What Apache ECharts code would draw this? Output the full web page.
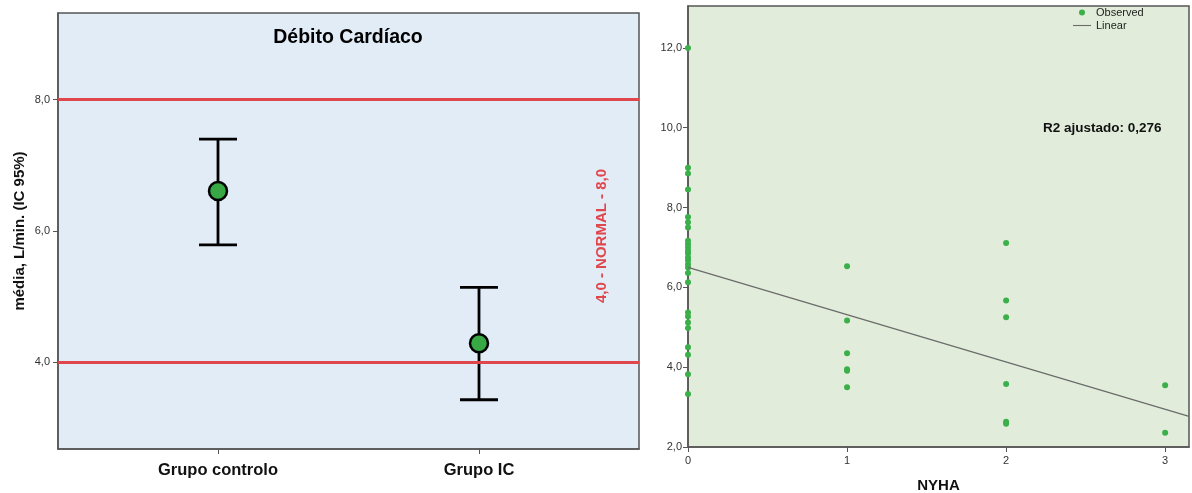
<!DOCTYPE html>
<html>
<head>
<meta charset="utf-8">
<script src="https://cdn.jsdelivr.net/npm/echarts@6/dist/echarts.min.js"></script>
<style>
html,body{margin:0;padding:0;background:#fff;}
#c{width:1192px;height:493px;}
</style>
</head>
<body>
<div id="c"></div>
<script>
// ---- Left chart data (Débito Cardíaco, mean with 95% CI) ----
const groups = ['Grupo controlo', 'Grupo IC'];
const groupMeans = [6.61, 4.29];
const groupLow = [5.79, 3.43];
const groupHigh = [7.40, 5.14];
const normalRange = [4.0, 8.0];
const leftTicks = [4, 6, 8];

// ---- Right chart data (NYHA vs Débito Cardíaco) ----
const nyha0 = [12.0, 9.0, 8.85, 8.45, 7.76, 7.63, 7.5, 7.17, 7.08, 7.0, 6.92, 6.85, 6.75, 6.68, 6.58, 6.5, 6.36, 6.13, 5.37, 5.27, 5.12, 4.98, 4.5, 4.31, 3.82, 3.33];
const nyha1 = [6.53, 5.17, 4.35, 3.95, 3.91, 3.50];
const nyha2 = [7.11, 5.67, 5.25, 3.58, 2.63, 2.58];
const nyha3 = [3.55, 2.36];
const nyhaTicks = [0, 1, 2, 3];
const rightTicks = [2, 4, 6, 8, 10, 12];
const fitIntercept = 6.50;
const fitSlope = -1.184;
const r2Label = 'R2 ajustado: 0,276';

const FONT = '"Liberation Sans", Arial, sans-serif';
const fmt = v => Number(v).toFixed(1).replace('.', ',');

const scatterData = [];
[nyha0, nyha1, nyha2, nyha3].forEach((arr, i) => arr.forEach(v => scatterData.push([nyhaTicks[i], v])));

const rightXMax = 3.15;
const fitData = [[0, fitIntercept], [rightXMax, fitIntercept + fitSlope * rightXMax]];

const errData = groups.map((g, i) => [i + 1, groupLow[i], groupHigh[i]]);
const meanData = groups.map((g, i) => [i + 1, groupMeans[i]]);

const chart = echarts.init(document.getElementById('c'), null, {renderer: 'canvas'});

const option = {
  animation: false,
  backgroundColor: '#ffffff',
  legend: {
    left: 1073, top: 7, padding: 0, orient: 'vertical', itemGap: 2,
    itemWidth: 18, itemHeight: 6,
    textStyle: {fontFamily: FONT, fontSize: 11, color: '#222'},
    data: [
      {name: 'Observed', icon: 'circle'},
      {name: 'Linear', icon: 'path://M0,0L18,0L18,1.1L0,1.1Z', itemStyle: {color: '#6b6b6b'}}
    ]
  },
  grid: [
    {left: 58, top: 13, width: 581, height: 436, outerBoundsMode: 'none', containLabel: false, show: true, backgroundColor: '#e1ecf7', borderColor: '#555', borderWidth: 1.5},
    {left: 688, top: 6, width: 501, height: 441, outerBoundsMode: 'none', containLabel: false, show: true, backgroundColor: '#e1edda', borderColor: '#555', borderWidth: 1.5}
  ],
  xAxis: [
    {
      gridIndex: 0, type: 'value', min: 0.387, max: 2.613,
      axisLine: {show: true, lineStyle: {color: '#555', width: 1.5}},
      axisTick: {show: true, length: 5, customValues: [1, 2], lineStyle: {color: '#555'}},
      axisLabel: {customValues: [1, 2], margin: 13, formatter: v => groups[Math.round(v) - 1] || '',
        fontFamily: FONT, fontSize: 16.5, fontWeight: 'bold', color: '#111'},
      splitLine: {show: false}
    },
    {
      gridIndex: 1, type: 'value', min: 0, max: rightXMax,
      name: 'NYHA', nameLocation: 'middle', nameGap: 31,
      nameTextStyle: {fontFamily: FONT, fontSize: 15, fontWeight: 'bold', color: '#111'},
      axisLine: {show: true, lineStyle: {color: '#555', width: 1.5}},
      axisTick: {show: true, length: 5, customValues: nyhaTicks, lineStyle: {color: '#555'}},
      axisLabel: {customValues: nyhaTicks, margin: 8, fontFamily: FONT, fontSize: 11, color: '#333'},
      splitLine: {show: false}
    }
  ],
  yAxis: [
    {
      gridIndex: 0, type: 'value', min: 2.68, max: 9.32,
      name: 'média, L/min. (IC 95%)', nameLocation: 'middle', nameGap: 31,
      nameTextStyle: {fontFamily: FONT, fontSize: 15, fontWeight: 'bold', color: '#111'},
      axisLine: {show: true, lineStyle: {color: '#555', width: 1.5}},
      axisTick: {show: true, length: 5, customValues: leftTicks, lineStyle: {color: '#555'}},
      axisLabel: {customValues: leftTicks, margin: 8, formatter: fmt, fontFamily: FONT, fontSize: 11, color: '#333'},
      splitLine: {show: false}
    },
    {
      gridIndex: 1, type: 'value', min: 2, max: 13.05,
      axisLine: {show: true, lineStyle: {color: '#555', width: 1.5}},
      axisTick: {show: true, length: 5, customValues: rightTicks, lineStyle: {color: '#555'}},
      axisLabel: {customValues: rightTicks, margin: 6, formatter: fmt, fontFamily: FONT, fontSize: 11, color: '#333'},
      splitLine: {show: false}
    }
  ],
  graphic: [
    {
      type: 'text', x: 348, y: 38,
      style: {text: 'Débito Cardíaco', fill: '#000', font: 'bold 19.5px ' + FONT, align: 'center', verticalAlign: 'middle'}
    },
    {
      type: 'text', x: 602, y: 236, rotation: Math.PI / 2,
      style: {text: '4,0 - NORMAL - 8,0', fill: '#e0474c', font: 'bold 15px ' + FONT, align: 'center', verticalAlign: 'middle'}
    },
    {
      type: 'text', x: 1043, y: 128,
      style: {text: r2Label, fill: '#111', font: 'bold 13.5px ' + FONT, align: 'left', verticalAlign: 'middle'}
    }
  ],
  series: [
    {
      type: 'line', xAxisIndex: 0, yAxisIndex: 0, data: [], silent: true,
      markLine: {
        symbol: 'none', silent: true, label: {show: false},
        lineStyle: {color: '#e0474c', width: 3, type: 'solid'},
        data: normalRange.map(v => ({yAxis: v}))
      }
    },
    {
      type: 'custom', xAxisIndex: 0, yAxisIndex: 0, data: errData, z: 3,
      renderItem: (params, api) => {
        const x = api.value(0);
        const lo = api.coord([x, api.value(1)]);
        const hi = api.coord([x, api.value(2)]);
        const hw = 19;
        const st = {stroke: '#000', lineWidth: 2.8};
        return {type: 'group', children: [
          {type: 'line', shape: {x1: lo[0], y1: lo[1], x2: hi[0], y2: hi[1]}, style: st},
          {type: 'line', shape: {x1: lo[0] - hw, y1: lo[1], x2: lo[0] + hw, y2: lo[1]}, style: st},
          {type: 'line', shape: {x1: hi[0] - hw, y1: hi[1], x2: hi[0] + hw, y2: hi[1]}, style: st}
        ]};
      }
    },
    {
      type: 'scatter', xAxisIndex: 0, yAxisIndex: 0, data: meanData, z: 4,
      symbol: 'circle', symbolSize: 18,
      itemStyle: {color: '#38a845', borderColor: '#000', borderWidth: 2.5, opacity: 1}
    },
    {
      name: 'Observed', type: 'scatter', xAxisIndex: 1, yAxisIndex: 1, data: scatterData,
      symbol: 'circle', symbolSize: 6,
      itemStyle: {color: '#3bb04a', opacity: 1}
    },
    {
      name: 'Linear', type: 'line', xAxisIndex: 1, yAxisIndex: 1, data: fitData,
      symbol: 'none', showSymbol: false,
      lineStyle: {color: '#6b6b6b', width: 1.3},
      itemStyle: {color: '#6b6b6b'}
    }
  ]
};
chart.setOption(option);
</script>
</body>
</html>
